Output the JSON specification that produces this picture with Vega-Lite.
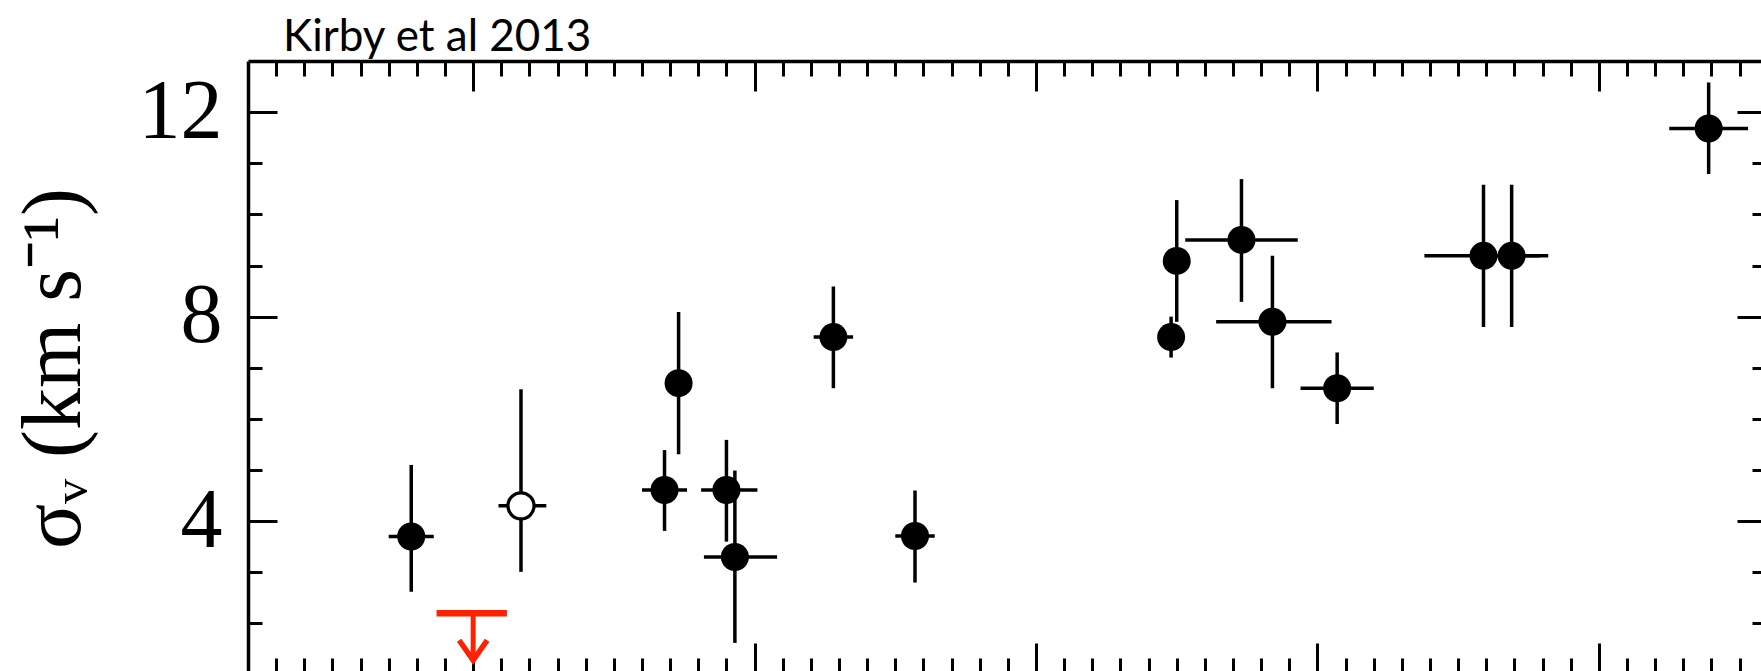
{
  "$schema": "https://vega.github.io/schema/vega-lite/v6.json",
  "autosize": "none",
  "padding": {"left": 248, "top": 61, "right": 0, "bottom": 0},
  "width": 1513,
  "height": 610,
  "background": "white",
  "title": {
    "text": "Kirby et al 2013",
    "anchor": "start",
    "frame": "group",
    "font": "Lato",
    "fontSize": 44,
    "fontWeight": "normal",
    "color": "black",
    "baseline": "alphabetic",
    "offset": 11,
    "dx": 35,
    "dy": 46
  },
  "datasets": {
    "galaxies": [
      {"x": 2.78, "xlo": 2.70, "xhi": 2.86, "y": 3.70, "ylo": 2.62, "yhi": 5.10, "kind": "filled"},
      {"x": 3.17, "xlo": 3.09, "xhi": 3.26, "y": 4.30, "ylo": 3.01, "yhi": 6.58, "kind": "open"},
      {"x": 3.68, "xlo": 3.60, "xhi": 3.76, "y": 4.61, "ylo": 3.81, "yhi": 5.39, "kind": "filled"},
      {"x": 3.73, "xlo": null, "xhi": null, "y": 6.70, "ylo": 5.31, "yhi": 8.09, "kind": "filled"},
      {"x": 3.90, "xlo": 3.81, "xhi": 4.01, "y": 4.61, "ylo": 3.60, "yhi": 5.59, "kind": "filled"},
      {"x": 3.93, "xlo": 3.82, "xhi": 4.08, "y": 3.30, "ylo": 1.62, "yhi": 4.99, "kind": "filled"},
      {"x": 4.28, "xlo": 4.21, "xhi": 4.35, "y": 7.60, "ylo": 6.60, "yhi": 8.59, "kind": "filled"},
      {"x": 4.57, "xlo": 4.50, "xhi": 4.64, "y": 3.71, "ylo": 2.80, "yhi": 4.60, "kind": "filled"},
      {"x": 5.48, "xlo": null, "xhi": null, "y": 7.60, "ylo": 7.20, "yhi": 8.00, "kind": "filled"},
      {"x": 5.50, "xlo": null, "xhi": null, "y": 9.09, "ylo": 7.90, "yhi": 10.28, "kind": "filled"},
      {"x": 5.73, "xlo": 5.53, "xhi": 5.93, "y": 9.50, "ylo": 8.29, "yhi": 10.69, "kind": "filled"},
      {"x": 5.84, "xlo": 5.64, "xhi": 6.05, "y": 7.90, "ylo": 6.60, "yhi": 9.19, "kind": "filled"},
      {"x": 6.07, "xlo": 5.94, "xhi": 6.20, "y": 6.60, "ylo": 5.90, "yhi": 7.30, "kind": "filled"},
      {"x": 6.59, "xlo": 6.38, "xhi": 6.79, "y": 9.19, "ylo": 7.80, "yhi": 10.58, "kind": "filled"},
      {"x": 6.69, "xlo": 6.57, "xhi": 6.82, "y": 9.19, "ylo": 7.80, "yhi": 10.58, "kind": "filled"},
      {"x": 7.39, "xlo": 7.25, "xhi": 7.53, "y": 11.68, "ylo": 10.79, "yhi": 12.58, "kind": "filled"}
    ],
    "limits": [
      {"x": 3.0, "xlo": 2.87, "xhi": 3.12, "y": 2.2, "tip": 1.28}
    ]
  },
  "resolve": {"axis": {"x": "independent", "y": "independent"}},
  "layer": [
    {
      "data": {"name": "galaxies"},
      "mark": {"type": "rule", "color": "black", "strokeWidth": 3.5},
      "encoding": {
        "x": {
          "field": "x", "type": "quantitative",
          "scale": {"domain": [2.2, 7.576], "nice": false, "zero": false},
          "axis": {
            "orient": "top", "values": [3, 4, 5, 6, 7], "tickSize": -30, "tickWidth": 3,
            "tickColor": "black", "labels": false, "title": null, "grid": false,
            "domain": true, "domainColor": "black", "domainWidth": 3.5
          }
        },
        "y": {
          "field": "ylo", "type": "quantitative",
          "scale": {"domain": [1.07, 13], "nice": false, "zero": false},
          "axis": {
            "orient": "left", "values": [4, 8, 12], "ticks": true, "tickSize": 0, "tickWidth": 0,
            "labelFont": "Liberation Serif", "labelFontSize": 84, "labelColor": "black",
            "labelPadding": 26, "labelBaseline": "middle",
            "grid": false, "domain": true, "domainColor": "black", "domainWidth": 3.5,
            "title": "σᵥ (km s⁻¹)",
            "titleFont": "Liberation Serif", "titleFontSize": 84, "titleFontWeight": "normal",
            "titleColor": "black", "titleAngle": -90, "titleAlign": "center",
            "titleBaseline": "alphabetic", "titleX": -169, "titleY": 307
          }
        },
        "y2": {"field": "yhi"}
      }
    },
    {
      "data": {"name": "galaxies"},
      "transform": [{"filter": "isValid(datum.xlo)"}],
      "mark": {"type": "rule", "color": "black", "strokeWidth": 3.5},
      "encoding": {
        "x": {
          "field": "xlo", "type": "quantitative",
          "scale": {"domain": [2.2, 7.576], "nice": false, "zero": false},
          "axis": {
            "orient": "top",
            "values": [2.3, 2.4, 2.5, 2.6, 2.7, 2.8, 2.9, 3.1, 3.2, 3.3, 3.4, 3.5, 3.6, 3.7, 3.8, 3.9, 4.1, 4.2, 4.3, 4.4, 4.5, 4.6, 4.7, 4.8, 4.9, 5.1, 5.2, 5.3, 5.4, 5.5, 5.6, 5.7, 5.8, 5.9, 6.1, 6.2, 6.3, 6.4, 6.5, 6.6, 6.7, 6.8, 6.9, 7.1, 7.2, 7.3, 7.4, 7.5],
            "tickSize": -15, "tickWidth": 3, "tickColor": "black",
            "labels": false, "title": null, "grid": false, "domain": false
          }
        },
        "x2": {"field": "xhi"},
        "y": {
          "field": "y", "type": "quantitative",
          "scale": {"domain": [1.07, 13], "nice": false, "zero": false},
          "axis": {
            "orient": "left", "values": [4, 8, 12], "tickSize": -29, "tickWidth": 3,
            "tickColor": "black", "labels": false, "title": null, "grid": false, "domain": false
          }
        }
      }
    },
    {
      "data": {"name": "galaxies"},
      "transform": [{"filter": "datum.kind === 'filled'"}],
      "mark": {"type": "point", "shape": "circle", "filled": true, "color": "black", "opacity": 1, "size": 784},
      "encoding": {
        "x": {
          "field": "x", "type": "quantitative",
          "scale": {"domain": [2.2, 7.576], "nice": false, "zero": false},
          "axis": {
            "orient": "bottom", "values": [3, 4, 5, 6, 7], "tickSize": -28, "tickWidth": 3,
            "tickColor": "black", "labels": false, "title": null, "grid": false, "domain": false
          }
        },
        "y": {
          "field": "y", "type": "quantitative",
          "scale": {"domain": [1.07, 13], "nice": false, "zero": false},
          "axis": {
            "orient": "left", "values": [2, 3, 5, 6, 7, 9, 10, 11], "tickSize": -14, "tickWidth": 3,
            "tickColor": "black", "labels": false, "title": null, "grid": false, "domain": false
          }
        }
      }
    },
    {
      "data": {"name": "galaxies"},
      "transform": [{"filter": "datum.kind === 'open'"}],
      "mark": {"type": "point", "shape": "circle", "filled": false, "fill": "white", "stroke": "black", "strokeWidth": 3.3, "opacity": 1, "size": 680},
      "encoding": {
        "x": {
          "field": "x", "type": "quantitative",
          "scale": {"domain": [2.2, 7.576], "nice": false, "zero": false},
          "axis": {
            "orient": "bottom",
            "values": [2.3, 2.4, 2.5, 2.6, 2.7, 2.8, 2.9, 3.1, 3.2, 3.3, 3.4, 3.5, 3.6, 3.7, 3.8, 3.9, 4.1, 4.2, 4.3, 4.4, 4.5, 4.6, 4.7, 4.8, 4.9, 5.1, 5.2, 5.3, 5.4, 5.5, 5.6, 5.7, 5.8, 5.9, 6.1, 6.2, 6.3, 6.4, 6.5, 6.6, 6.7, 6.8, 6.9, 7.1, 7.2, 7.3, 7.4, 7.5],
            "tickSize": -13, "tickWidth": 3, "tickColor": "black",
            "labels": false, "title": null, "grid": false, "domain": false
          }
        },
        "y": {
          "field": "y", "type": "quantitative",
          "scale": {"domain": [1.07, 13], "nice": false, "zero": false},
          "axis": {
            "orient": "right", "values": [4, 8, 12], "tickSize": -24, "tickWidth": 3,
            "tickColor": "black", "labels": false, "title": null, "grid": false, "domain": false
          }
        }
      }
    },
    {
      "data": {"name": "limits"},
      "mark": {"type": "rule", "color": "#ff2200", "strokeWidth": 6.5},
      "encoding": {
        "x": {"field": "xlo", "type": "quantitative", "scale": {"domain": [2.2, 7.576], "nice": false, "zero": false}, "axis": null},
        "x2": {"field": "xhi"},
        "y": {
          "field": "y", "type": "quantitative",
          "scale": {"domain": [1.07, 13], "nice": false, "zero": false},
          "axis": {
            "orient": "right", "values": [2, 3, 5, 6, 7, 9, 10, 11], "tickSize": -9, "tickWidth": 3,
            "tickColor": "black", "labels": false, "title": null, "grid": false, "domain": false
          }
        }
      }
    },
    {
      "data": {"name": "limits"},
      "mark": {"type": "rule", "color": "#ff2200", "strokeWidth": 5},
      "encoding": {
        "x": {"field": "x", "type": "quantitative", "scale": {"domain": [2.2, 7.576], "nice": false, "zero": false}, "axis": null},
        "y": {"field": "y", "type": "quantitative", "scale": {"domain": [1.07, 13], "nice": false, "zero": false}, "axis": null},
        "y2": {"field": "tip"}
      }
    },
    {
      "data": {"name": "limits"},
      "mark": {"type": "point", "shape": "M -1 -1.43 L 0 0 L 1 -1.43", "filled": false, "stroke": "#ff2200", "strokeWidth": 5.5, "strokeJoin": "miter", "opacity": 1, "size": 784},
      "encoding": {
        "x": {"field": "x", "type": "quantitative", "scale": {"domain": [2.2, 7.576], "nice": false, "zero": false}, "axis": null},
        "y": {"field": "tip", "type": "quantitative", "scale": {"domain": [1.07, 13], "nice": false, "zero": false}, "axis": null}
      }
    }
  ],
  "config": {
    "view": {"stroke": null}
  }
}
